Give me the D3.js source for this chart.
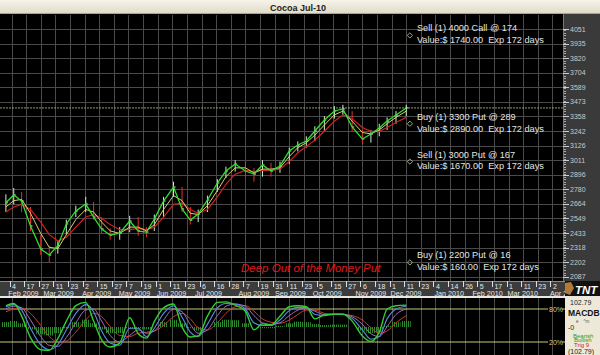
<!DOCTYPE html>
<html>
<head>
<meta charset="utf-8">
<style>
  body { margin: 0; background: #000; }
  svg { display: block; font-family: "Liberation Sans", Arial, sans-serif; }
  .grid line { stroke: #4a4a4a; stroke-width: 1; shape-rendering: crispEdges; }
</style>
</head>
<body>
<script src="https://cdn.jsdelivr.net/npm/d3@7/dist/d3.min.js"></script>
<script>
// ---- data ----
var priceTicks = [2087, 2202, 2318, 2433, 2549, 2664, 2780, 2896, 3011, 3126, 3242, 3358, 3473, 3589, 3704, 3820, 3935, 4051];

// date axis: one label every 8 trading days
var dateTicks = ["2009-02-04","2009-02-17","2009-02-27","2009-03-11","2009-03-23","2009-04-02","2009-04-15","2009-04-27",
  "2009-05-07","2009-05-19","2009-06-01","2009-06-11","2009-06-23","2009-07-06","2009-07-16","2009-07-28","2009-08-07",
  "2009-08-19","2009-08-31","2009-09-11","2009-09-23","2009-10-05","2009-10-15","2009-10-27","2009-11-06","2009-11-18",
  "2009-12-01","2009-12-11","2009-12-23","2010-01-04","2010-01-14","2010-01-26","2010-02-05","2010-02-17","2010-03-01",
  "2010-03-11","2010-03-23","2010-04-02"];
var monthStarts = ["2009-02-02","2009-03-02","2009-04-01","2009-05-01","2009-06-01","2009-07-01","2009-08-03","2009-09-01",
  "2009-10-01","2009-11-02","2009-12-01","2010-01-04","2010-02-01","2010-03-01","2010-04-01"];

// weekly (Friday) samples, 30 Jan 2009 .. 11 Dec 2009
var closes = [2673,2735,2687,2489,2306,2259,2333,2505,2608,2663,2560,2465,2417,2433,2528,2449,2441,2544,2687,2798,
  2624,2536,2584,2695,2830,2925,2980,2925,2901,2973,2925,2965,3084,3131,3163,3242,3329,3401,3417,3274,3179,3218,3266,3321,3369,3425];
var highs = [2740,2790,2760,2640,2420,2330,2370,2540,2650,2720,2680,2560,2470,2480,2570,2560,2480,2580,2720,2840,
  2800,2640,2620,2730,2860,2960,3010,3000,2950,3010,2990,3000,3110,3160,3200,3280,3360,3440,3450,3400,3250,3250,3300,3350,3400,3450];
var lows = [2600,2660,2600,2450,2260,2200,2270,2420,2560,2600,2540,2430,2380,2380,2440,2410,2400,2450,2560,2720,
  2600,2500,2520,2600,2760,2870,2920,2880,2840,2880,2880,2910,2980,3080,3110,3160,3240,3340,3370,3240,3140,3150,3200,3250,3300,3360];
var avgFast = [2640,2690,2700,2590,2430,2320,2310,2420,2540,2620,2600,2520,2450,2430,2480,2480,2450,2500,2620,2730,
  2690,2590,2580,2650,2770,2880,2950,2950,2910,2940,2940,2950,3040,3110,3150,3210,3290,3370,3400,3320,3230,3220,3250,3300,3350,3400];
var avgSlow = [2600,2640,2660,2620,2520,2420,2370,2400,2480,2560,2580,2550,2500,2460,2460,2470,2460,2480,2560,2660,
  2670,2620,2590,2620,2720,2820,2900,2930,2920,2930,2930,2940,3000,3070,3120,3170,3240,3320,3370,3340,3270,3240,3240,3270,3310,3350];

// lower panel (percent lines and MACD histogram), same weekly samples
var stochFast = [86,90,67,28,6,5,26,58,86,92,58,24,11,18,64,35,27,57,82,89,47,29,31,67,92,93,87,76,42,53,51,67,84,86,84,62,69,71,71,58,31,21,38,80,86,87];
var stochSlow = [84,88,78,45,15,6,15,42,72,88,75,40,18,14,45,45,30,45,72,86,65,38,30,52,82,90,89,80,55,50,50,60,77,83,83,70,68,70,70,63,42,25,30,62,80,85];
var stochAvg = [80,85,82,60,30,14,12,28,55,78,80,58,32,20,32,42,36,40,60,80,75,52,36,42,68,85,89,85,68,55,52,55,68,78,82,76,70,70,70,66,52,35,30,48,70,80];
var stochSig = [75,80,82,72,50,30,20,22,38,60,72,66,48,32,30,36,38,40,50,66,72,62,46,42,55,72,84,86,76,62,56,54,60,70,78,78,72,70,70,68,60,46,36,40,55,68];
var macdHist = [20,25,15,-10,-30,-35,-25,-5,20,30,15,-10,-25,-25,-5,-5,-10,0,20,30,15,-5,-15,0,20,30,28,15,0,-5,-5,5,15,22,20,12,8,10,10,0,-15,-25,-20,5,20,25];

// option legs
var legStrikes = [4000, 3300, 3000, 2200];
var legTitles = ["Sell (1) 4000 Call @ 174", "Buy (1) 3300 Put @ 289", "Sell (1) 3000 Put @ 167", "Buy (1) 2200 Put @ 16"];
var legValues = ["Value:$ 1740.00  Exp 172 days", "Value:$ 2890.00  Exp 172 days", "Value:$ 1670.00  Exp 172 days", "Value:$ 160.00  Exp 172 days"];
var legDate = "2009-12-14";

// ---- layout ----
var width = 600, height = 355;
var plotRight = 563, mainTop = 15, mainBottom = 281, stripBottom = 297, macdTop = 298;

var parse = d3.timeParse("%Y-%m-%d");
var tickDates = dateTicks.map(parse);
var weeks = d3.timeFriday.range(new Date(2009, 0, 30), new Date(2009, 11, 12));

// trading-day axis: labels are evenly spaced
var x = d3.scaleTime()
    .domain(tickDates)
    .range(tickDates.map(function(d, i) { return 11.5 + i * 14.62; }));
var y = d3.scaleLinear().domain([2087, 4051]).range([276.7, 29]);
var sy = d3.scaleLinear().domain([20, 80]).range([342, 309]);
var hy = d3.scaleLinear().domain([-102.79, 102.79]).range([352, 302]);

var svg = d3.select("body").append("svg").attr("width", width).attr("height", height);
var defs = svg.append("defs");

// title bar
var grad = defs.append("linearGradient").attr("id", "tb").attr("x2", 0).attr("y2", 1);
grad.append("stop").attr("offset", 0).attr("stop-color", "#f6f4ea");
grad.append("stop").attr("offset", 1).attr("stop-color", "#dedac6");
svg.append("rect").attr("width", width).attr("height", 14).attr("fill", "url(#tb)");
svg.append("line").attr("x1", 0).attr("x2", width).attr("y1", 13.5).attr("y2", 13.5).attr("stroke", "#a8a490");
svg.append("text").attr("x", 298).attr("y", 10.5).attr("text-anchor", "middle")
    .attr("font-size", 9).attr("font-weight", "bold").attr("fill", "#222").text("Cocoa Jul-10");

svg.append("rect").attr("y", 14).attr("width", plotRight).attr("height", mainBottom - 14).attr("fill", "#000");

// grid
var grid = svg.append("g").attr("class", "grid");
grid.selectAll(".h").data(priceTicks).enter().append("line")
    .attr("x1", 0).attr("x2", plotRight)
    .attr("y1", function(d) { return Math.round(y(d)); }).attr("y2", function(d) { return Math.round(y(d)); });
grid.selectAll(".v").data(tickDates).enter().append("line")
    .attr("x1", function(d) { return Math.round(x(d)); }).attr("x2", function(d) { return Math.round(x(d)); })
    .attr("y1", mainTop).attr("y2", mainBottom);

// last price line
svg.append("line").attr("x1", 0).attr("x2", plotRight)
    .attr("y1", y(closes[closes.length - 1])).attr("y2", y(closes[closes.length - 1]))
    .attr("stroke", "#9a9a7a").attr("stroke-dasharray", "2,1").attr("stroke-width", 1);

defs.append("clipPath").attr("id", "mainclip").append("rect")
    .attr("y", mainTop).attr("width", plotRight).attr("height", mainBottom - mainTop);
var main = svg.append("g").attr("clip-path", "url(#mainclip)");

var rows = weeks.map(function(d, i) {
  return { date: d, c: closes[i], h: highs[i], l: lows[i], f: avgFast[i], s: avgSlow[i] };
});

// price bars
main.selectAll(".bar").data(rows).enter().append("line")
    .attr("x1", function(d) { return x(d.date); }).attr("x2", function(d) { return x(d.date); })
    .attr("y1", function(d) { return y(d.h); }).attr("y2", function(d) { return y(d.l); })
    .attr("stroke", function(d, i) { return i > 0 && d.c < closes[i - 1] ? "#e03030" : "#c8f0c8"; })
    .attr("stroke-width", 1);
main.selectAll(".tick").data(rows).enter().append("line")
    .attr("x1", function(d) { return x(d.date); }).attr("x2", function(d) { return x(d.date) + 2; })
    .attr("y1", function(d) { return y(d.c); }).attr("y2", function(d) { return y(d.c); })
    .attr("stroke", "#e8e8e8").attr("stroke-width", 1);

function series(key) {
  return d3.line().x(function(d) { return x(d.date); }).y(function(d) { return y(d[key]); });
}
main.append("path").datum(rows).attr("d", series("s")).attr("fill", "none").attr("stroke", "#d42020").attr("stroke-width", 1.2);
main.append("path").datum(rows).attr("d", series("f")).attr("fill", "none").attr("stroke", "#d8d070").attr("stroke-width", 1);
main.append("path").datum(rows).attr("d", series("c")).attr("fill", "none").attr("stroke", "#2ee02e").attr("stroke-width", 1.3);

// option legs
var legX = x(parse(legDate));
var legs = svg.append("g").selectAll("g").data(legStrikes).enter().append("g");
legs.append("path").attr("d", d3.symbol().type(d3.symbolSquare).size(14))
    .attr("transform", function(d) { return "translate(" + legX + "," + y(d) + ") rotate(45)"; })
    .attr("fill", "none").attr("stroke", "#a8c890").attr("stroke-width", 0.8);
legs.append("text").attr("x", legX + 7).attr("y", function(d) { return y(d) - 4; })
    .attr("font-size", 9.2).attr("fill", "#e4e4e4").style("white-space", "pre")
    .text(function(d, i) { return legTitles[i]; });
legs.append("text").attr("x", legX + 7).attr("y", function(d) { return y(d) + 7.8; })
    .attr("font-size", 9.2).attr("fill", "#e4e4e4").style("white-space", "pre")
    .text(function(d, i) { return legValues[i]; });

svg.append("text").attr("x", 241).attr("y", 271.5).attr("font-size", 11.5).attr("font-style", "italic")
    .attr("fill", "#e01818").text("Deep Out of the Money Put");

// right price axis
svg.append("rect").attr("x", plotRight).attr("y", 14).attr("width", width - plotRight).attr("height", mainBottom - 14).attr("fill", "#3a3a3a");
svg.append("g").selectAll("line").data(y.ticks(100)).enter().append("line")
    .attr("x1", plotRight).attr("x2", plotRight + 3)
    .attr("y1", function(d) { return Math.round(y(d)) + 0.5; }).attr("y2", function(d) { return Math.round(y(d)) + 0.5; })
    .attr("stroke", "#aaa");
svg.append("line").attr("x1", plotRight + 0.5).attr("x2", plotRight + 0.5).attr("y1", 14).attr("y2", mainBottom).attr("stroke", "#777");
var yAxis = svg.append("g").selectAll("g").data(priceTicks).enter().append("g");
yAxis.append("line").attr("x1", plotRight).attr("x2", plotRight + 6)
    .attr("y1", function(d) { return Math.round(y(d)) + 0.5; }).attr("y2", function(d) { return Math.round(y(d)) + 0.5; })
    .attr("stroke", "#ccc");
yAxis.append("text").attr("x", plotRight + 7).attr("y", function(d) { return y(d) + 2.5; })
    .attr("font-size", 7).attr("fill", "#c8c8c8").text(function(d) { return d; });

// date strip
svg.append("rect").attr("y", mainBottom).attr("width", plotRight + 2).attr("height", stripBottom - mainBottom).attr("fill", "#3c3c3c");
svg.append("line").attr("x1", 0).attr("x2", plotRight + 2).attr("y1", mainBottom + 0.5).attr("y2", mainBottom + 0.5).attr("stroke", "#8a8a8a");
defs.append("clipPath").attr("id", "stripclip").append("rect")
    .attr("y", mainBottom).attr("width", plotRight + 2).attr("height", stripBottom - mainBottom);
var strip = svg.append("g").attr("clip-path", "url(#stripclip)");
var xAxis = strip.append("g").selectAll("g").data(tickDates).enter().append("g");
xAxis.append("line").attr("x1", function(d) { return Math.round(x(d)) - 1.5; }).attr("x2", function(d) { return Math.round(x(d)) - 1.5; })
    .attr("y1", mainBottom).attr("y2", mainBottom + 6).attr("stroke", "#ddd");
xAxis.append("text").attr("x", function(d) { return x(d) + 0.5; }).attr("y", mainBottom + 7.5)
    .attr("font-size", 7).attr("fill", "#e8e8e8").text(function(d) { return d.getDate(); });
strip.append("g").selectAll("text").data(monthStarts.map(parse)).enter().append("text")
    .attr("x", function(d) { return x(d) - 1; }).attr("y", mainBottom + 14.5)
    .attr("font-size", 7.2).attr("fill", "#e8e8e8")
    .text(function(d, i) { return i === monthStarts.length - 1 ? "Apr 2" : d3.timeFormat("%b %Y")(d); });
svg.append("rect").attr("y", stripBottom - 1).attr("width", width).attr("height", 2).attr("fill", "#e8e8e0");

// logo
svg.append("rect").attr("x", plotRight + 2).attr("y", mainBottom).attr("width", width - plotRight - 2).attr("height", stripBottom - mainBottom - 1).attr("fill", "#111");
svg.append("path").attr("d", "M565,283 L571,282 L574,288 L570,295 L565,293 Z").attr("fill", "#b07a3a");
svg.append("text").attr("x", 575).attr("y", 294).attr("font-size", 11.5).attr("font-weight", "bold")
    .attr("font-style", "italic").attr("fill", "#fff").text("TNT");

// lower panel
svg.append("rect").attr("y", macdTop).attr("width", 565).attr("height", height - macdTop).attr("fill", "#000");
svg.append("g").attr("class", "grid").selectAll("line").data(tickDates).enter().append("line")
    .attr("x1", function(d) { return Math.round(x(d)); }).attr("x2", function(d) { return Math.round(x(d)); })
    .attr("y1", macdTop).attr("y2", height);

var lower = weeks.map(function(d, i) {
  return { date: d, a: stochFast[i], b: stochSlow[i], c: stochAvg[i], s: stochSig[i], h: macdHist[i] };
});

// histogram drawn with a hatch so it reads like the dense daily bars
var hatch = defs.append("pattern").attr("id", "hatch").attr("patternUnits", "userSpaceOnUse")
    .attr("width", 2).attr("height", 4);
hatch.append("rect").attr("width", 1).attr("height", 4).attr("fill", "#2f8a2f");
svg.append("g").selectAll("rect").data(lower).enter().append("rect")
    .attr("x", function(d) { return x(d.date) - 4.5; }).attr("width", 9)
    .attr("y", function(d) { return Math.min(hy(0), hy(d.h)); })
    .attr("height", function(d) { return Math.abs(hy(d.h) - hy(0)); })
    .attr("fill", "url(#hatch)");

[80, 20].forEach(function(v) {
  svg.append("line").attr("x1", 0).attr("x2", 548).attr("y1", sy(v)).attr("y2", sy(v)).attr("stroke", "#c8c878").attr("stroke-width", 1);
  svg.append("line").attr("x1", 562).attr("x2", 568).attr("y1", sy(v)).attr("y2", sy(v)).attr("stroke", "#c8c878").attr("stroke-width", 1);
  svg.append("text").attr("x", 549).attr("y", sy(v) + 2.5).attr("font-size", 7).attr("fill", "#d0d088").text(v + "%");
});

function lowLine(key) {
  return d3.line().curve(d3.curveMonotoneX).x(function(d) { return x(d.date); }).y(function(d) { return sy(d[key]); });
}
defs.append("clipPath").attr("id", "lowclip").append("rect").attr("y", macdTop).attr("width", 565).attr("height", height - macdTop);
var lg = svg.append("g").attr("clip-path", "url(#lowclip)");
lg.append("path").datum(lower).attr("d", lowLine("s")).attr("fill", "none").attr("stroke", "#d03a2a").attr("stroke-width", 1);
lg.append("path").datum(lower).attr("d", lowLine("c")).attr("fill", "none").attr("stroke", "#a070c0").attr("stroke-width", 1);
lg.append("path").datum(lower).attr("d", lowLine("b")).attr("fill", "none").attr("stroke", "#5a8ee0").attr("stroke-width", 1.1);
lg.append("path").datum(lower).attr("d", lowLine("a")).attr("fill", "none").attr("stroke", "#30d030").attr("stroke-width", 1.4);

// lower legend box
svg.append("rect").attr("x", 565).attr("y", macdTop).attr("width", width - 565).attr("height", height - macdTop).attr("fill", "#ece9d8");
svg.append("text").attr("x", 570).attr("y", 304.5).attr("font-size", 7).attr("fill", "#222").text("102.79");
svg.append("text").attr("x", 568).attr("y", 315.5).attr("font-size", 8.5).attr("font-weight", "bold").attr("fill", "#111").text("MACDB");
svg.append("text").attr("x", 576).attr("y", 322.5).attr("font-size", 4.5).attr("fill", "#555").style("white-space", "pre").text("e    ^m");
svg.append("text").attr("x", 568).attr("y", 329.5).attr("font-size", 7).attr("fill", "#222").text("-0");
svg.append("text").attr("x", 573).attr("y", 337.5).attr("font-size", 6).attr("fill", "#2a9a2a").text("Bearish");
svg.append("text").attr("x", 574).attr("y", 342).attr("font-size", 6).attr("fill", "#2a9a2a").text("Bullish");
svg.append("text").attr("x", 574).attr("y", 346.5).attr("font-size", 6).attr("fill", "#d02020").text("Trig  9");
svg.append("text").attr("x", 568).attr("y", 354).attr("font-size", 7).attr("fill", "#222").text("(102.79)");
</script>
</body>
</html>
